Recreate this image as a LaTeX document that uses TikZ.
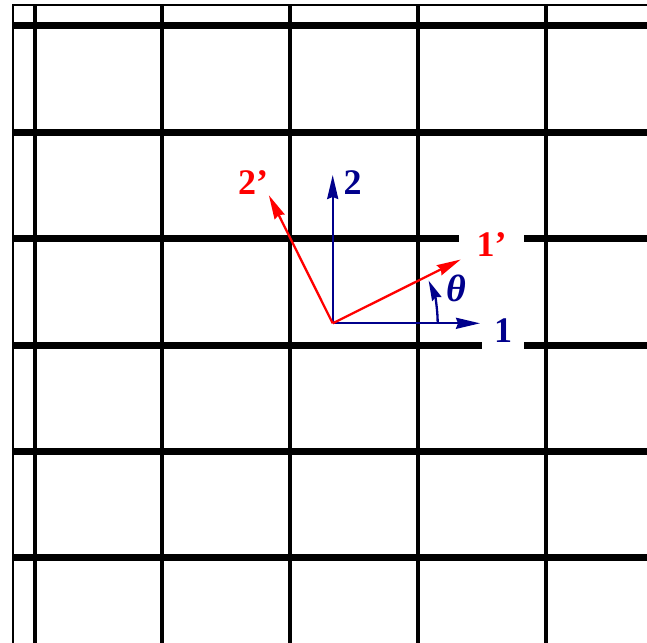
\documentclass[tikz,border=0pt]{standalone}
\usepackage{fontspec}
\setmainfont{Liberation Serif}
\usetikzlibrary{arrows.meta}
\definecolor{navy}{RGB}{0,0,140}
\begin{document}
\begin{tikzpicture}[x=1pt,y=-1pt,
  hline/.style={line width=7pt},
  vline/.style={line width=4pt},
  axis/.style={line width=2.3pt,-{Stealth[length=24pt,width=11pt,inset=2pt]}},
  arcax/.style={line width=2.3pt,-{Stealth[length=20pt,width=10pt,inset=2pt]}},
  lab/.style={font=\fontsize{36}{40}\selectfont\bfseries,inner sep=0pt}]
\useasboundingbox (0,0) rectangle (647,642);
\clip (0,0) rectangle (647,642);
\fill[white] (0,0) rectangle (647,642);
\draw[line width=1.3pt] (13,5) rectangle (700,700);
\foreach \y in {25.5,132,238.5,345,451,557} \draw[hline] (13,\y) -- (660,\y);
\foreach \x in {34.5,162,290,418,546} \draw[vline] (\x,5) -- (\x,660);
% labels (white boxes make the gaps in the lines)
\node[lab,navy,fill=white,minimum width=42pt,minimum height=40pt] (l1) at (503,331) {1};
\node[lab,red,fill=white,minimum width=65pt,minimum height=30pt] (l1p) at (491.5,245) {1'};
\node[lab,navy] (l2) at (352.5,183) {2};
\node[lab,red] (l2p) at (253,182.5) {2'};
\node[lab,navy,font=\fontsize{38}{42}\selectfont\bfseries\itshape] (th) at (456,288.5) {θ};
% axes
\coordinate (O) at (332.7,323.3);
\coordinate (e1) at (480,323.3);
\coordinate (e2) at (332.7,175);
\coordinate (e1p) at (460.7,259.5);
\coordinate (e2p) at (268.9,195.3);
\draw[axis,navy] (O) -- (e1);
\draw[axis,navy] (O) -- (e2);
\draw[axis,red] (O) -- (e1p);
\draw[axis,red] (O) -- (e2p);
\draw[arcax,navy] ([shift={(105,0)}]O) arc[start angle=0,end angle=24,radius=105pt];
\end{tikzpicture}
\end{document}
